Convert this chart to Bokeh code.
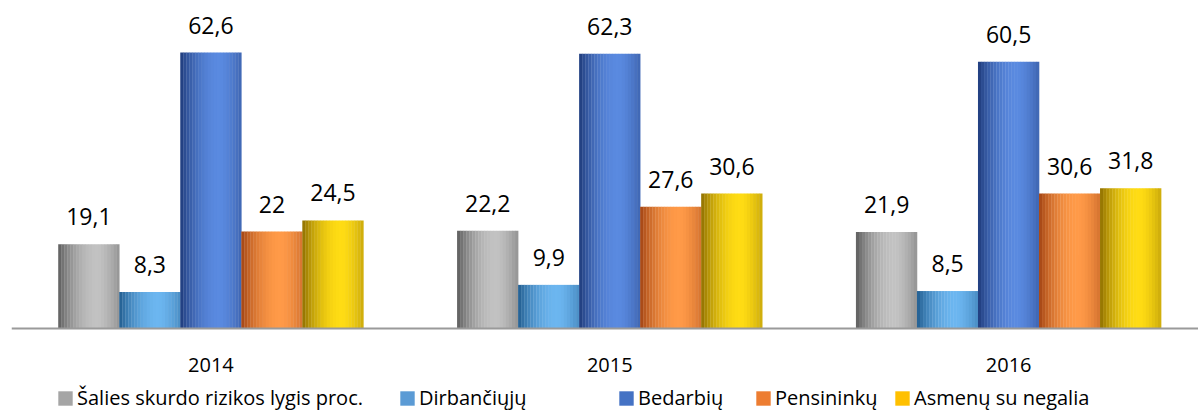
import numpy as np
from bokeh.plotting import figure
from bokeh.models import (ColumnDataSource, Range1d, LabelSet, Span,
                          Legend, LegendItem)
from bokeh.core.properties import value
from bokeh.embed import file_html
from bokeh.resources import INLINE

years = ["2014", "2015", "2016"]
series = ["Šalies skurdo rizikos lygis proc.", "Dirbančiųjų", "Bedarbių",
          "Pensininkų", "Asmenų su negalia"]
salies = [19.1, 22.2, 21.9]
dirbanciuju = [8.3, 9.9, 8.5]
bedarbiu = [62.6, 62.3, 60.5]
pensininku = [22.0, 27.6, 30.6]
asmenu = [24.5, 30.6, 31.8]
labels = [["19,1", "22,2", "21,9"], ["8,3", "9,9", "8,5"], ["62,6", "62,3", "60,5"],
          ["22", "27,6", "30,6"], ["24,5", "30,6", "31,8"]]

values = [salies, dirbanciuju, bedarbiu, pensininku, asmenu]
# (dark edge, light highlight, legend colour)
palettes = [
    ("#5a5a5a", "#c2c2c2", "#a5a5a5"),
    ("#1f5a8c", "#6cb6f0", "#5b9bd5"),
    ("#1c3878", "#5a8ae0", "#4472c4"),
    ("#a04212", "#ff9a48", "#ed7d31"),
    ("#8c6c00", "#ffdc14", "#ffc000"),
]

FONT = "Open Sans"

p = figure(width=1198, height=412, output_backend="svg", toolbar_location=None,
           x_range=Range1d(-0.5, 2.476), y_range=Range1d(-19.05, 74.4),
           min_border_left=11, min_border_right=0, min_border_top=0,
           min_border_bottom=0)
p.outline_line_color = None
p.grid.visible = False
p.xaxis.visible = False
p.yaxis.visible = False

bw = 0.153
N = 20
xs = np.arange(len(years))


def mix(c1, c2, t):
    a = [int(c1[i:i + 2], 16) for i in (1, 3, 5)]
    b = [int(c2[i:i + 2], 16) for i in (1, 3, 5)]
    return "#%02x%02x%02x" % tuple(int(round(a[j] + (b[j] - a[j]) * t)) for j in range(3))


for s, (vals, (dark, light, leg)) in enumerate(zip(values, palettes)):
    center = xs + (s - 2) * bw
    for k in range(N):
        f = (k + 0.5) / N
        # cylinder shading: dark left edge, highlight ~65%, darker right edge
        if f < 0.65:
            t = np.sin(0.5 * np.pi * f / 0.65) ** 0.8
        else:
            t = 1 - 0.45 * ((f - 0.65) / 0.35) ** 1.5
        col = mix(dark, light, t)
        src = ColumnDataSource(dict(x=center - bw / 2 + f * bw, top=vals))
        p.vbar(x="x", top="top", bottom=0, width=bw / N * 1.1, source=src,
               fill_color=col, line_color=None)
    lsrc = ColumnDataSource(dict(x=center, y=vals, t=labels[s]))
    p.add_layout(LabelSet(x="x", y="y", text="t", source=lsrc, text_align="center",
                          text_baseline="alphabetic", y_offset=19,
                          text_font=value(FONT), text_font_size=value("23px"),
                          text_color=value("#000000")))

# category axis: baseline + year labels
p.add_layout(Span(location=0, dimension="width", line_color="#9a9a9a", line_width=2))
ysrc = ColumnDataSource(dict(x=xs, y=[0] * len(years), t=years))
p.add_layout(LabelSet(x="x", y="y", text="t", source=ysrc, text_align="center",
                      text_baseline="alphabetic", y_offset=-43,
                      text_font=value(FONT), text_font_size=value("20px"),
                      text_color=value("#000000")))

# legend renderers (rectangles placed below the visible range)
legend_renderers = []
for s, (dark, light, leg) in enumerate(palettes):
    r = p.vbar(x=[0], top=[-100], bottom=[-101], width=0.1, fill_color=leg,
               line_color=None)
    legend_renderers.append(r)

pos = [45, 387, 606, 743, 882]
for s in range(5):
    lg = Legend(items=[LegendItem(label=series[s], renderers=[legend_renderers[s]])],
                location=(pos[s], 1), orientation="horizontal",
                background_fill_alpha=0, border_line_color=None, padding=0, margin=0,
                glyph_width=18, glyph_height=18, label_standoff=3,
                label_text_font=FONT, label_text_font_size="20px",
                label_text_color="#000000", label_height=22)
    p.add_layout(lg, "center")

open("out.html", "w").write(file_html(p, INLINE))
